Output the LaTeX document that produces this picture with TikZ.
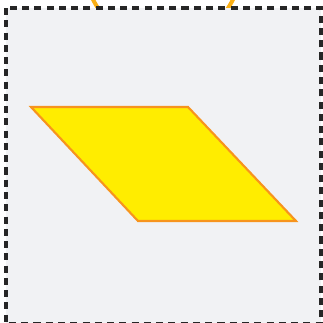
\documentclass[tikz,border=0pt]{standalone}
\usetikzlibrary{calc}
\definecolor{bgfill}{RGB}{241,242,244}
\definecolor{parafill}{RGB}{255,237,0}
\definecolor{paraline}{RGB}{247,148,29}
\definecolor{arcline}{RGB}{250,175,20}
\tikzset{
  framebox/.style={draw=black!85, fill=bgfill, line width=2.4pt, dash pattern=on 5.3pt off 3.9pt},
  paraset/.style={fill=parafill, draw=paraline, line width=1.6pt, line join=miter},
  arcset/.style={draw=arcline, line width=3pt}
}
\begin{document}
\begin{tikzpicture}[x=0.75pt,y=-0.75pt]
\useasboundingbox (0,0) rectangle (323,322);
\draw[arcset] (163,-35) circle (78);
\draw[framebox] (6,8) rectangle (321,324);
\draw[paraset] (31,107) -- (188,107) -- (296,221) -- (138,221) -- cycle;
\end{tikzpicture}
\end{document}
